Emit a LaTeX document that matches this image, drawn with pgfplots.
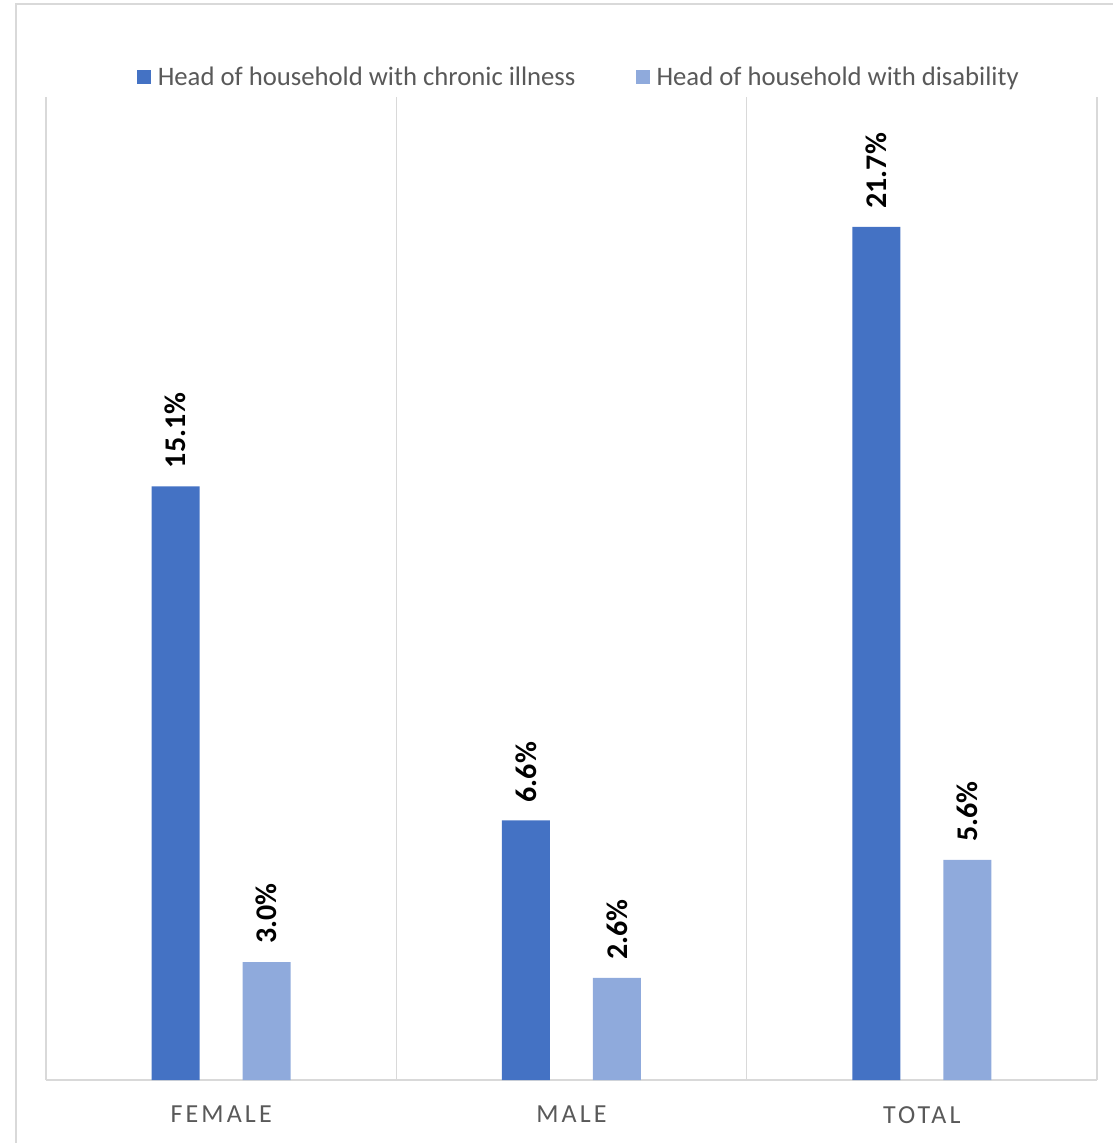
\documentclass[border=0pt]{standalone}
\usepackage{pgfplots}
\pgfplotsset{compat=1.18}
\usepackage{fontspec}
\setmainfont{Carlito}
\definecolor{darkbar}{HTML}{4472C4}
\definecolor{lightbar}{HTML}{8FAADC}
\definecolor{gridgray}{HTML}{D9D9D9}
\definecolor{txtgray}{HTML}{595959}
\begin{document}
\begin{tikzpicture}
\draw[gridgray, line width=1.5pt] (16pt,-4pt) rectangle (1200pt,-1200pt);
\begin{axis}[
  at={(46pt,-1080pt)}, anchor=south west,
  scale only axis,
  width=1051pt, height=983pt,
  xmin=-0.5, xmax=2.5,
  ymin=0, ymax=25,
  axis y line=none,
  axis x line*=bottom,
  x axis line style={draw=gridgray, line width=1.5pt, -},
  xtick={0,1,2},
  xticklabels={FEMALE,MALE,TOTAL},
  major tick length=0pt,
  extra x ticks={-0.5,0.5,1.5,2.5},
  extra x tick labels={},
  extra x tick style={grid=major, major grid style={draw=gridgray, line width=1.5pt}},
  xticklabel style={font=\fontsize{26}{30}\selectfont\addfontfeature{LetterSpace=12}, text=txtgray, anchor=north, inner sep=0pt, yshift=-26pt},
  ybar,
  bar width=48pt,
  nodes near coords={\pgfmathprintnumber[assume math mode=true,fixed,fixed zerofill,precision=1]{\pgfplotspointmeta}\%},
  nodes near coords style={rotate=90, anchor=west, inner xsep=18pt, inner ysep=0pt, font=\fontsize{30}{34}\selectfont\bfseries, text=black},
  legend columns=2,
  legend style={at={(axis description cs:0.506,1.0203)}, anchor=center, draw=none, fill=none,
    font=\fontsize{26.7}{30}\selectfont, text=txtgray,
    nodes={inner sep=0pt, anchor=west},
    /tikz/every even column/.append style={column sep=60pt},
    /tikz/every odd column/.append style={column sep=7pt}},
  legend image code/.code={\fill[#1] (0pt,-7pt) rectangle (14pt,7pt);},
]
\addplot[fill=darkbar, draw=none, bar shift=-45.5pt] coordinates {(0,15.1) (1,6.6) (2,21.7)};
\addlegendentry{Head of household with chronic illness}
\addplot[fill=lightbar, draw=none, bar shift=45.5pt] coordinates {(0,3.0) (1,2.6) (2,5.6)};
\addlegendentry{Head of household with disability}
\end{axis}
\pgfresetboundingbox
\useasboundingbox (0,0) rectangle (1113pt,-1143pt);
\end{tikzpicture}
\end{document}
